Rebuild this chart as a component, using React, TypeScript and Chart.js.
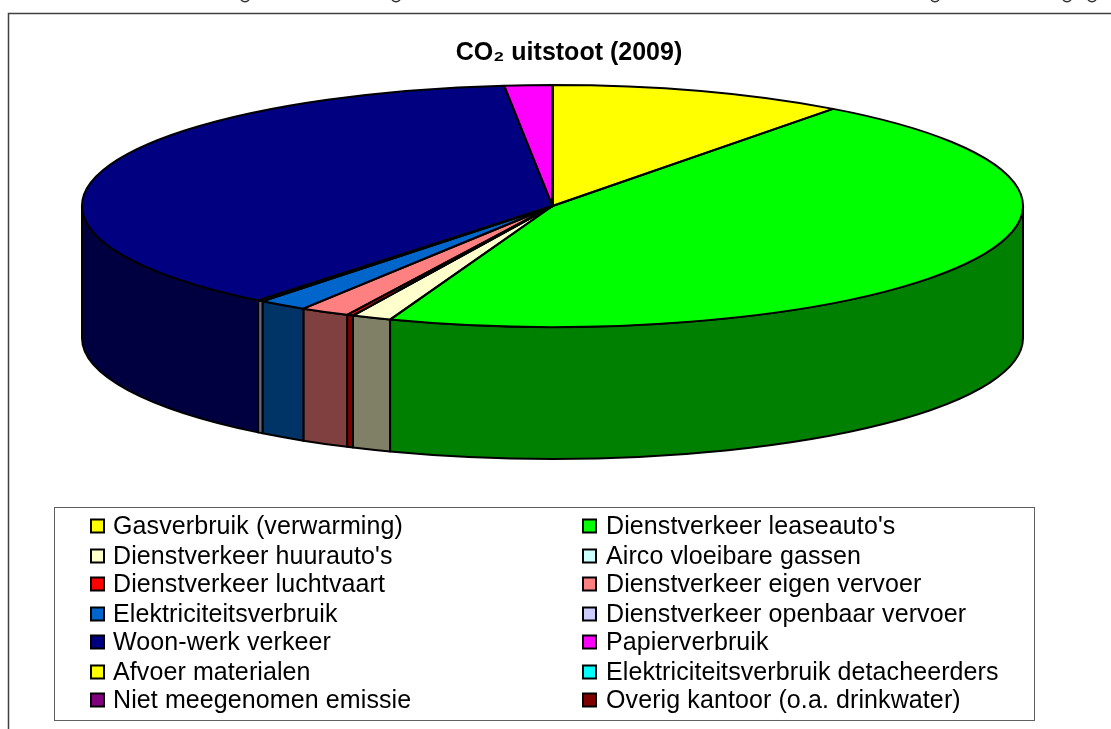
import React, { useEffect, useRef } from "react";
import { Chart, registerables } from "chart.js";

Chart.register(...registerables);

const categories = [
  "Gasverbruik (verwarming)",
  "Dienstverkeer leaseauto's",
  "Dienstverkeer huurauto's",
  "Airco vloeibare gassen",
  "Dienstverkeer luchtvaart",
  "Dienstverkeer eigen vervoer",
  "Elektriciteitsverbruik",
  "Dienstverkeer openbaar vervoer",
  "Woon-werk verkeer",
  "Papierverbruik",
  "Afvoer materialen",
  "Elektriciteitsverbruik detacheerders",
  "Niet meegenomen emissie",
  "Overig kantoor (o.a. drinkwater)",
];
const shares = [10.17, 45.44, 1.36, 0, 0.22, 1.69, 1.69, 0.19, 37.6, 1.64, 0, 0, 0, 0];
const sliceColors = [
  "#FFFF00", "#00FF00", "#FFFFCC", "#CCFFFF", "#FF0000", "#FF8080", "#0066CC",
  "#CCCCFF", "#000080", "#FF00FF", "#FFFF00", "#00FFFF", "#800080", "#800000",
];
const chartTitle = "CO₂ uitstoot (2009)";

const FONT = '"Liberation Sans", Arial, sans-serif';
const RX = 470.5;
const RY = 121;
const DEPTH = 132;
const LEGEND_ROWS = [526, 556, 584, 614, 642, 672, 700];
const LEGEND_SWATCH_X = [90, 582];
const LEGEND_TEXT_X = [113, 606];
const CLIPPED_TAILS = [245, 396, 935, 1067, 1092];

const halve = (hex: string) => {
  const n = parseInt(hex.slice(1), 16);
  const r = (n >> 16) & 255;
  const g = (n >> 8) & 255;
  const b = n & 255;
  return `rgb(${Math.round(r / 2)},${Math.round(g / 2)},${Math.round(b / 2)})`;
};

const pie3d = {
  id: "pie3d",
  afterLayout(chart: any) {
    chart.titleBlock.left += 16.5;
    chart.titleBlock.right += 16.5;
  },
  beforeDraw(chart: any) {
    const { ctx } = chart;
    ctx.save();
    ctx.strokeStyle = "#404040";
    ctx.lineWidth = 1.5;
    ctx.beginPath();
    ctx.moveTo(8.5, 729);
    ctx.lineTo(8.5, 13.5);
    ctx.lineTo(1111, 13.5);
    ctx.stroke();
    ctx.strokeStyle = "#333";
    ctx.lineWidth = 1.3;
    CLIPPED_TAILS.forEach((cx) => {
      ctx.beginPath();
      ctx.moveTo(cx - 4, 0);
      ctx.quadraticCurveTo(cx, 3.5, cx + 4, 0);
      ctx.stroke();
    });
    ctx.restore();
  },
  beforeDatasetsDraw(chart: any) {
    const { ctx } = chart;
    const arcs = chart.getDatasetMeta(0).data;
    const { x, y } = arcs[0];
    ctx.save();
    ctx.lineWidth = 2;
    ctx.strokeStyle = "#000";
    ctx.lineJoin = "round";
    arcs.forEach((arc: any, i: number) => {
      const s = Math.max(arc.startAngle, 0);
      const e = Math.min(arc.endAngle, Math.PI);
      if (e <= s) return;
      ctx.beginPath();
      ctx.ellipse(x, y + DEPTH, RX, RY, 0, s, e);
      ctx.ellipse(x, y, RX, RY, 0, e, s, true);
      ctx.closePath();
      ctx.fillStyle = halve(sliceColors[i]);
      ctx.fill();
      ctx.stroke();
    });
    ctx.restore();
    ctx.save();
    ctx.translate(x, y);
    ctx.scale(1, RY / RX);
    ctx.translate(-x, -y);
  },
  afterDatasetsDraw(chart: any) {
    const { ctx } = chart;
    ctx.restore();
    const arcs = chart.getDatasetMeta(0).data;
    const { x, y } = arcs[0];
    ctx.save();
    ctx.lineWidth = 2;
    ctx.strokeStyle = "#000";
    ctx.lineJoin = "round";
    arcs.forEach((arc: any) => {
      ctx.beginPath();
      ctx.moveTo(x, y);
      ctx.ellipse(x, y, RX, RY, 0, arc.startAngle, arc.endAngle);
      ctx.closePath();
      ctx.stroke();
    });
    ctx.restore();
  },
  afterDraw(chart: any) {
    const { ctx } = chart;
    const labels = chart.data.labels as string[];
    const colors = chart.data.datasets[0].backgroundColor as string[];
    ctx.save();
    ctx.strokeStyle = "#606060";
    ctx.lineWidth = 1;
    ctx.fillStyle = "#fff";
    ctx.fillRect(54.5, 507.5, 980, 213);
    ctx.strokeRect(54.5, 507.5, 980, 213);
    ctx.font = `25px ${FONT}`;
    ctx.letterSpacing = "0.1px";
    ctx.textBaseline = "alphabetic";
    ctx.textAlign = "left";
    labels.forEach((label, i) => {
      const col = i % 2;
      const sx = LEGEND_SWATCH_X[col];
      const row = LEGEND_ROWS[Math.floor(i / 2)];
      ctx.fillStyle = colors[i];
      ctx.fillRect(sx + 1, row - 6.5, 13, 13);
      ctx.strokeStyle = "#000";
      ctx.lineWidth = 2;
      ctx.strokeRect(sx + 1, row - 6.5, 13, 13);
      ctx.fillStyle = "#000";
      ctx.fillText(label, LEGEND_TEXT_X[col], row + 8);
    });
    ctx.restore();
  },
};

export default function App() {
  const ref = useRef<HTMLCanvasElement>(null);
  useEffect(() => {
    const chart = new Chart(ref.current!, {
      type: "pie",
      data: {
        labels: categories,
        datasets: [
          {
            data: shares,
            backgroundColor: sliceColors,
            borderWidth: 0,
            radius: RX,
            clip: false,
          } as any,
        ],
      },
      options: {
        responsive: false,
        animation: false,
        layout: { padding: { top: 38.5, left: 0, right: 6, bottom: 385.5 } },
        events: [],
        plugins: {
          legend: { display: false },
          tooltip: { enabled: false },
          title: {
            display: true,
            text: chartTitle,
            color: "#000",
            padding: 0,
            font: { family: FONT, size: 25, weight: "bold", lineHeight: 1.2 },
          },
        },
      },
      plugins: [pie3d],
    });
    return () => chart.destroy();
  }, []);
  return (
    <div style={{ position: "absolute", left: 0, top: 0, width: 1111, height: 729, overflow: "hidden", background: "#fff" }}>
      <canvas ref={ref} width={1111} height={729} style={{ display: "block" }} />
    </div>
  );
}
